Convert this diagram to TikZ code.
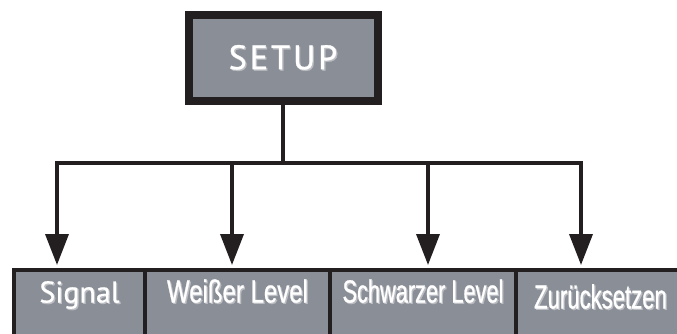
\documentclass[tikz,border=0pt]{standalone}
\usepackage{fontspec}
\usepackage{tikz}
\usetikzlibrary{arrows.meta,positioning}

\newfontfamily\menufont[FakeBold=0.6]{PT Sans}
\newfontfamily\setupfont[LetterSpace=9,FakeBold=1]{PT Sans}
\newfontfamily\narrowfont[FakeStretch=0.74,FakeBold=0.8]{Liberation Sans}

\definecolor{boxgray}{RGB}{138,143,151}
\definecolor{edgeblack}{RGB}{35,31,32}
\definecolor{txtshadow}{RGB}{188,190,195}

\newcommand\shadowed[1]{\rlap{\kern1.3pt\raisebox{-1.3pt}{\color{txtshadow}#1}}#1}

\begin{document}
\begin{tikzpicture}
[x=1pt,y=-1pt,
every node/.style={fill=boxgray,draw=edgeblack,text=white,inner sep=0pt,outer sep=0pt},
menu/.style={line width=8pt,minimum width=189pt,minimum height=86pt,font=\setupfont\fontsize{34}{36}\selectfont},
entry/.style={line width=4.5pt,text height=32.5pt,text depth=57.5pt},
wire/.style={draw=edgeblack,line width=3.6pt},
drop/.style={wire,-{Triangle[length=31pt,width=23pt]},shorten >=5pt}]

\clip (0,0) rectangle (677,334);

\node[menu] (setup) at (283,58) {\shadowed{SETUP}};

\node[entry,minimum width=131pt,font=\menufont\fontsize{30}{32}\selectfont] (signal) at (79.5,315) {\shadowed{Signal}};
\node[entry,minimum width=185pt,font=\narrowfont\addfontfeature{FakeStretch=0.75}\fontsize{32}{34}\selectfont,right=0pt of signal] (weiss) {\shadowed{Weißer Level}};
\node[entry,minimum width=186pt,font=\narrowfont\addfontfeature{FakeStretch=0.68}\fontsize{32}{34}\selectfont,right=0pt of weiss] (schwarz) {\shadowed{Schwarzer Level}};
\node[entry,minimum width=169pt,font=\narrowfont\addfontfeature{FakeStretch=0.66}\fontsize{33.5}{35}\selectfont,text height=38.5pt,text depth=51.5pt,right=0pt of schwarz] (reset) {\shadowed{Zurücksetzen}};

\coordinate (b1) at (57,163);
\coordinate (b2) at (232,163);
\coordinate (b3) at (428,163);
\coordinate (b4) at (581,163);

\draw[wire] (setup.south) -- (setup.south |- b1);
\draw[drop] (b2) -- (b1) -- (b1 |- signal.north);
\draw[drop] (b3) -- (b4) -- (b4 |- reset.north);
\draw[wire] (b2) -- (b3);
\draw[drop] (b2) -- (b2 |- weiss.north);
\draw[drop] (b3) -- (b3 |- schwarz.north);
\end{tikzpicture}
\end{document}
